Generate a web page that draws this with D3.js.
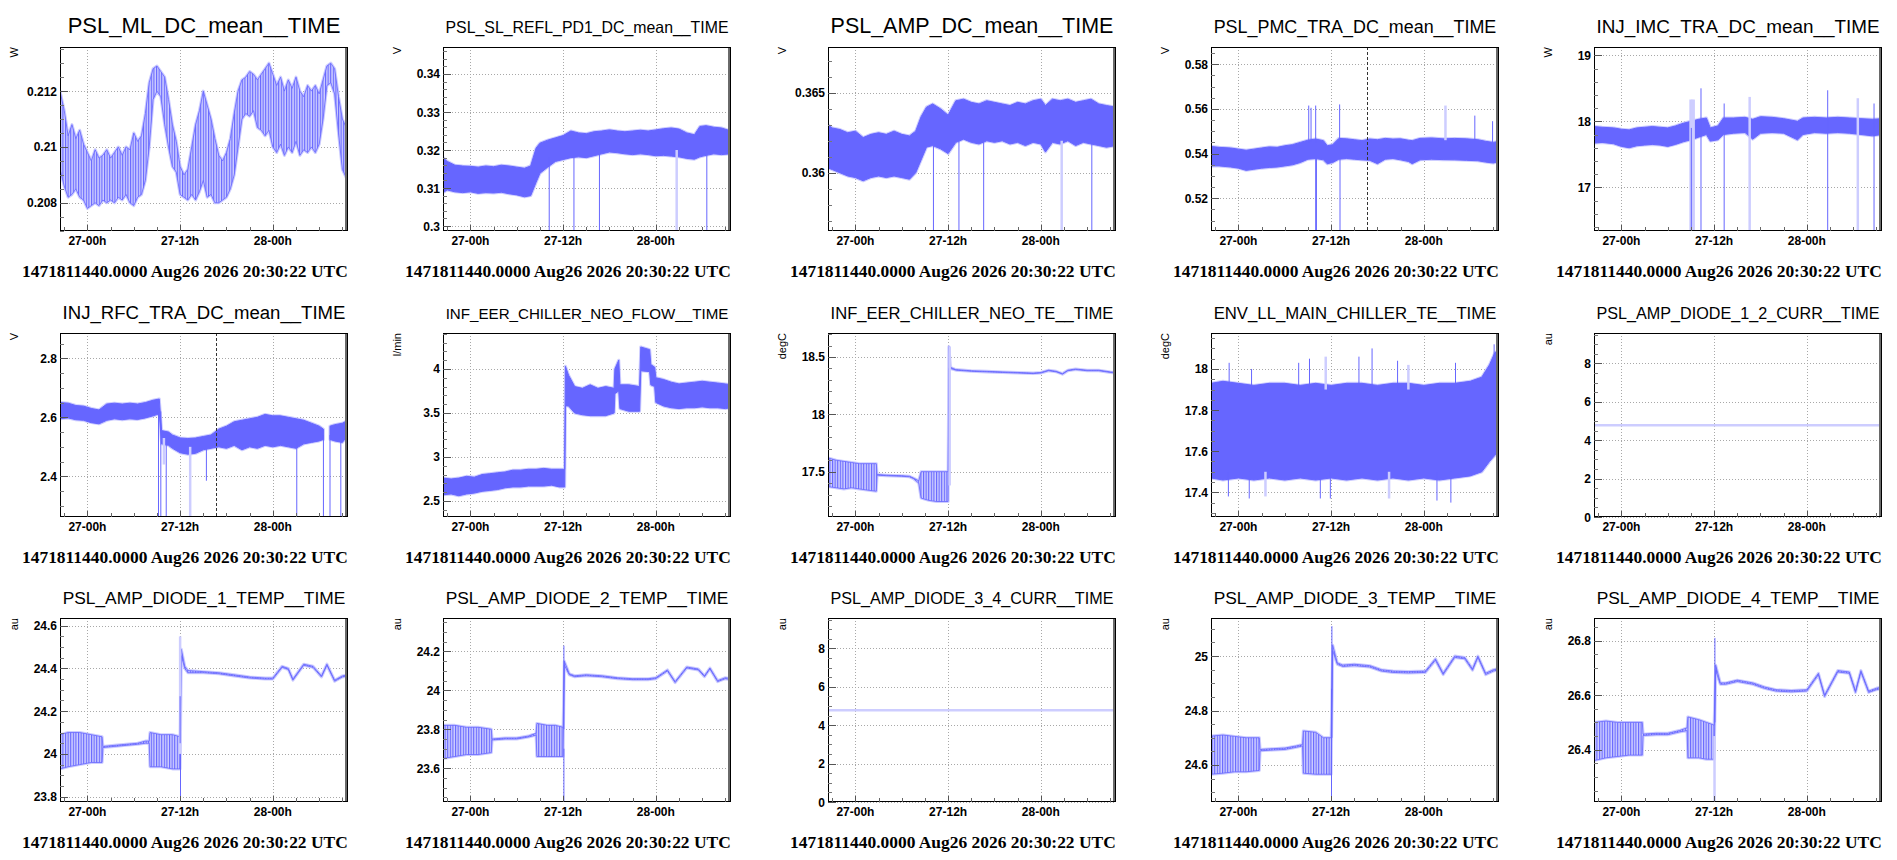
<!DOCTYPE html>
<html>
<head>
<meta charset="utf-8">
<script src="https://cdn.jsdelivr.net/npm/d3@7"></script>
<style>
  body { margin: 0; background: #fff; }
  text { font-family: "Liberation Sans", Arial, sans-serif; }
  text.stamp { font-family: "Liberation Serif", "Times New Roman", serif; }
</style>
</head>
<body>
<div id="chart"></div>
<script>
// Panel titles, units and axis ranges
const titles = [
  'PSL_ML_DC_mean__TIME', 'PSL_SL_REFL_PD1_DC_mean__TIME', 'PSL_AMP_DC_mean__TIME', 'PSL_PMC_TRA_DC_mean__TIME', 'INJ_IMC_TRA_DC_mean__TIME',
  'INJ_RFC_TRA_DC_mean__TIME', 'INF_EER_CHILLER_NEO_FLOW__TIME', 'INF_EER_CHILLER_NEO_TE__TIME', 'ENV_LL_MAIN_CHILLER_TE__TIME', 'PSL_AMP_DIODE_1_2_CURR__TIME',
  'PSL_AMP_DIODE_1_TEMP__TIME', 'PSL_AMP_DIODE_2_TEMP__TIME', 'PSL_AMP_DIODE_3_4_CURR__TIME', 'PSL_AMP_DIODE_3_TEMP__TIME', 'PSL_AMP_DIODE_4_TEMP__TIME'
];
const units = ['W', 'V', 'V', 'V', 'W', 'V', 'l/min', 'degC', 'degC', 'au', 'au', 'au', 'au', 'au', 'au'];
const yDomains = [
  [0.20699, 0.21358], [0.2987, 0.3471], [0.35636, 0.36786], [0.50537, 0.5877], [16.338, 19.126],
  [2.262, 2.886], [2.318, 4.409], [17.105, 18.709], [17.28, 18.175], [0, 9.58],
  [23.775, 24.636], [23.426, 24.372], [0, 9.58], [24.464, 25.14], [26.208, 26.883]
];
const yTickValues = [
  [0.208, 0.21, 0.212], [0.3, 0.31, 0.32, 0.33, 0.34], [0.36, 0.365], [0.52, 0.54, 0.56, 0.58], [17, 18, 19],
  [2.4, 2.6, 2.8], [2.5, 3, 3.5, 4], [17.5, 18, 18.5], [17.4, 17.6, 17.8, 18], [0, 2, 4, 6, 8],
  [23.8, 24, 24.2, 24.4, 24.6], [23.6, 23.8, 24, 24.2], [0, 2, 4, 6, 8], [24.6, 24.8, 25], [26.4, 26.6, 26.8]
];
const yMinorSteps = [0.0005, 0.002, 0.001, 0.005, 0.2, 0.05, 0.1, 0.1, 0.05, 0.5, 0.05, 0.05, 0.5, 0.05, 0.05];

// Time axis: hours relative to Aug 27 00:00 UTC
const timeSpan = [-3.55, 33.73];
const xMajorHours = [0, 12, 24];
const xMinorHours = [-3, 3, 6, 9, 15, 18, 21, 27, 30, 33];
const stampLabel = '1471811440.0000 Aug26 2026 20:30:22 UTC';
const markerHours = [16.67];
const markerPanels = [3, 5];

// Series: [hour, low envelope, high envelope]
const mlDc = [
  [-3.55, 0.2092, 0.2120], [-3.0, 0.2086, 0.2113], [-2.5, 0.2082, 0.2104], [-2.0, 0.2083, 0.2108], [-1.5, 0.2085, 0.2103],
  [-1.0, 0.2082, 0.2106], [-0.5, 0.2081, 0.2101], [0.0, 0.2078, 0.2098], [0.5, 0.2079, 0.2095], [1.0, 0.2080, 0.2099],
  [1.5, 0.2079, 0.2096], [2.0, 0.2081, 0.2097], [2.5, 0.2080, 0.2099], [3.0, 0.2081, 0.2096], [3.5, 0.2080, 0.2098],
  [4.0, 0.2082, 0.2100], [4.5, 0.2081, 0.2097], [5.0, 0.2083, 0.2100], [5.5, 0.2080, 0.2099], [6.0, 0.2079, 0.2105],
  [6.5, 0.2082, 0.2102], [7.0, 0.2083, 0.2104], [7.5, 0.2088, 0.2112], [8.0, 0.2100, 0.2123], [8.5, 0.2117, 0.2128],
  [9.0, 0.2120, 0.2129], [9.5, 0.2118, 0.2127], [10.0, 0.2108, 0.2125], [10.5, 0.2100, 0.2117], [11.0, 0.2093, 0.2108],
  [11.5, 0.2091, 0.2102], [12.0, 0.2083, 0.2093], [12.5, 0.2082, 0.2090], [13.0, 0.2081, 0.2092], [13.5, 0.2083, 0.2100],
  [14.0, 0.2081, 0.2108], [14.5, 0.2084, 0.2113], [15.0, 0.2088, 0.2120], [15.5, 0.2082, 0.2115], [16.0, 0.2083, 0.2110],
  [16.5, 0.2080, 0.2103], [17.0, 0.2080, 0.2097], [17.5, 0.2081, 0.2095], [18.0, 0.2082, 0.2098], [18.5, 0.2085, 0.2103],
  [19.0, 0.2090, 0.2112], [19.5, 0.2100, 0.2120], [20.0, 0.2110, 0.2124], [20.5, 0.2112, 0.2125], [21.0, 0.2111, 0.2127],
  [21.5, 0.2113, 0.2126], [22.0, 0.2107, 0.2124], [22.5, 0.2106, 0.2126], [23.0, 0.2104, 0.2128], [23.5, 0.2106, 0.2130],
  [24.0, 0.2100, 0.2126], [24.5, 0.2098, 0.2122], [25.0, 0.2101, 0.2125], [25.5, 0.2097, 0.2120], [26.0, 0.2100, 0.2124],
  [26.5, 0.2098, 0.2121], [27.0, 0.2102, 0.2125], [27.5, 0.2097, 0.2120], [28.0, 0.2099, 0.2118], [28.5, 0.2098, 0.2122],
  [29.0, 0.2100, 0.2120], [29.5, 0.2098, 0.2122], [30.0, 0.2101, 0.2119], [30.5, 0.2110, 0.2124], [31.0, 0.2122, 0.2129],
  [31.5, 0.2123, 0.2130], [32.0, 0.2119, 0.2128], [32.5, 0.2105, 0.2118], [33.0, 0.2092, 0.2110], [33.5, 0.2089, 0.2107],
  [33.73, 0.2093, 0.2105]
];
const slRefl = [
  [-3.55, 0.3088, 0.3180], [-3.0, 0.3095, 0.3170], [-2.0, 0.3090, 0.3160], [-1.0, 0.3088, 0.3158], [0.0, 0.3090, 0.3157],
  [1.0, 0.3086, 0.3155], [2.0, 0.3088, 0.3158], [3.0, 0.3087, 0.3156], [4.0, 0.3089, 0.3160], [5.0, 0.3085, 0.3158],
  [6.0, 0.3082, 0.3155], [7.0, 0.3077, 0.3152], [7.8, 0.3080, 0.3158], [8.5, 0.3115, 0.3205], [9.0, 0.3139, 0.3218],
  [10.0, 0.3155, 0.3226], [11.0, 0.3170, 0.3232], [12.0, 0.3175, 0.3238], [13.0, 0.3180, 0.3250], [14.0, 0.3182, 0.3245],
  [15.0, 0.3180, 0.3243], [16.0, 0.3185, 0.3248], [17.0, 0.3190, 0.3250], [18.0, 0.3195, 0.3253], [19.0, 0.3193, 0.3250],
  [20.0, 0.3190, 0.3248], [21.0, 0.3188, 0.3250], [22.0, 0.3190, 0.3252], [23.0, 0.3188, 0.3250], [24.0, 0.3185, 0.3253],
  [25.0, 0.3186, 0.3256], [26.0, 0.3184, 0.3258], [27.0, 0.3182, 0.3255], [28.0, 0.3178, 0.3245], [29.0, 0.3176, 0.3240],
  [29.7, 0.3182, 0.3262], [30.5, 0.3186, 0.3264], [31.5, 0.3190, 0.3260], [32.5, 0.3188, 0.3258], [33.73, 0.3190, 0.3250]
];
const ampDc = [
  [-3.55, 0.3603, 0.3630], [-3.0, 0.3602, 0.3628], [-2.0, 0.3600, 0.3627], [-1.0, 0.3598, 0.3625], [0.0, 0.3597, 0.3626],
  [1.0, 0.3595, 0.3622], [2.0, 0.3597, 0.3624], [3.0, 0.3598, 0.3625], [4.0, 0.3597, 0.3624], [5.0, 0.3598, 0.3626],
  [6.0, 0.3597, 0.3624], [7.0, 0.3596, 0.3623], [7.8, 0.3600, 0.3626], [8.5, 0.3608, 0.3635], [9.2, 0.3616, 0.3641],
  [10.0, 0.3617, 0.3643], [11.0, 0.3615, 0.3640], [12.0, 0.3612, 0.3636], [13.0, 0.3619, 0.3645], [14.0, 0.3621, 0.3646],
  [15.0, 0.3619, 0.3644], [16.0, 0.3618, 0.3643], [17.0, 0.3620, 0.3645], [18.0, 0.3619, 0.3644], [19.0, 0.3620, 0.3643],
  [20.0, 0.3618, 0.3642], [21.0, 0.3619, 0.3644], [22.0, 0.3617, 0.3643], [23.0, 0.3619, 0.3645], [24.0, 0.3618, 0.3646],
  [24.6, 0.3613, 0.3642], [25.5, 0.3619, 0.3646], [26.5, 0.3618, 0.3645], [27.5, 0.3620, 0.3646], [28.5, 0.3617, 0.3644],
  [29.5, 0.3619, 0.3645], [30.5, 0.3618, 0.3646], [31.5, 0.3617, 0.3643], [32.5, 0.3616, 0.3642], [33.73, 0.3617, 0.3641]
];
const pmcTra = [
  [-3.55, 0.5345, 0.5432], [-2.5, 0.5345, 0.5428], [-1.0, 0.5340, 0.5425], [0.0, 0.5335, 0.5420], [1.0, 0.5325, 0.5415],
  [2.0, 0.5330, 0.5420], [3.0, 0.5335, 0.5425], [4.0, 0.5338, 0.5430], [5.0, 0.5340, 0.5428], [6.0, 0.5345, 0.5435],
  [7.0, 0.5350, 0.5440], [8.0, 0.5360, 0.5450], [9.0, 0.5375, 0.5460], [10.0, 0.5378, 0.5465], [11.0, 0.5372, 0.5458],
  [11.5, 0.5355, 0.5435], [12.2, 0.5360, 0.5440], [13.0, 0.5375, 0.5468], [14.0, 0.5378, 0.5466], [15.0, 0.5375, 0.5462],
  [16.0, 0.5372, 0.5458], [17.0, 0.5370, 0.5465], [18.0, 0.5355, 0.5462], [19.0, 0.5375, 0.5468], [20.0, 0.5378, 0.5465],
  [21.0, 0.5372, 0.5466], [22.0, 0.5365, 0.5460], [22.5, 0.5355, 0.5458], [23.5, 0.5372, 0.5468], [25.0, 0.5375, 0.5470],
  [26.5, 0.5373, 0.5466], [28.0, 0.5372, 0.5468], [29.5, 0.5370, 0.5466], [31.0, 0.5368, 0.5462], [32.0, 0.5362, 0.5455],
  [33.0, 0.5358, 0.5450], [33.73, 0.5365, 0.5455]
];
const imcTra = [
  [-3.55, 17.67, 17.92], [-2.5, 17.68, 17.91], [-1.0, 17.66, 17.90], [0.0, 17.62, 17.88], [1.0, 17.60, 17.87],
  [2.0, 17.63, 17.90], [3.0, 17.64, 17.91], [4.0, 17.65, 17.92], [5.0, 17.64, 17.91], [6.0, 17.62, 17.90],
  [7.0, 17.65, 17.93], [8.0, 17.69, 17.97], [9.0, 17.72, 18.00], [10.0, 17.76, 18.03], [11.0, 17.80, 18.05],
  [11.5, 17.70, 17.90], [12.5, 17.72, 17.93], [13.2, 17.80, 18.05], [14.5, 17.82, 18.05], [16.0, 17.83, 18.06],
  [17.0, 17.73, 18.03], [18.0, 17.82, 18.07], [19.5, 17.83, 18.06], [21.0, 17.82, 18.04], [22.8, 17.72, 18.00],
  [23.5, 17.80, 18.05], [25.0, 17.83, 18.06], [26.5, 17.82, 18.05], [28.0, 17.83, 18.06], [29.5, 17.82, 18.05],
  [31.0, 17.80, 18.04], [32.5, 17.78, 18.03], [33.73, 17.80, 18.04]
];
const rfcTra = [
  [-3.55, 2.595, 2.650], [-2.5, 2.598, 2.648], [-1.5, 2.592, 2.640], [-0.5, 2.590, 2.638], [0.5, 2.582, 2.630],
  [1.5, 2.578, 2.625], [2.5, 2.590, 2.645], [3.5, 2.595, 2.648], [4.5, 2.592, 2.645], [5.5, 2.595, 2.648],
  [6.5, 2.593, 2.645], [7.5, 2.598, 2.650], [8.5, 2.605, 2.658], [9.3, 2.612, 2.662], [9.6, 2.510, 2.555],
  [10.5, 2.505, 2.550], [11.0, 2.495, 2.540], [12.0, 2.480, 2.530], [13.0, 2.475, 2.528], [14.0, 2.478, 2.530],
  [15.0, 2.490, 2.535], [16.0, 2.495, 2.540], [17.0, 2.500, 2.560], [18.0, 2.495, 2.570], [19.0, 2.505, 2.585],
  [20.0, 2.490, 2.590], [21.0, 2.500, 2.595], [22.0, 2.495, 2.600], [23.0, 2.505, 2.610], [24.0, 2.500, 2.605],
  [25.0, 2.505, 2.605], [26.0, 2.500, 2.600], [27.0, 2.495, 2.595], [28.0, 2.510, 2.590], [29.0, 2.515, 2.580],
  [30.0, 2.520, 2.570], [30.55, 2.525, 2.560], [31.0, null, null], [31.4, 2.525, 2.570], [32.0, 2.520, 2.575],
  [33.0, 2.515, 2.580], [33.73, 2.540, 2.590]
];
const neoFlow = [
  [-3.55, 2.57, 2.76], [-2.5, 2.58, 2.75], [-1.5, 2.56, 2.76], [-0.5, 2.58, 2.78], [0.5, 2.59, 2.77],
  [1.5, 2.61, 2.80], [2.5, 2.62, 2.81], [3.5, 2.63, 2.82], [4.5, 2.65, 2.83], [5.5, 2.66, 2.85],
  [6.5, 2.66, 2.85], [7.5, 2.67, 2.86], [8.5, 2.67, 2.86], [9.5, 2.67, 2.87], [10.5, 2.68, 2.86],
  [11.5, 2.66, 2.86], [12.2, 2.66, 2.86], [12.3, 3.58, 4.03], [12.7, 3.58, 3.93], [13.5, 3.50, 3.80],
  [14.5, 3.48, 3.78], [15.5, 3.47, 3.82], [16.5, 3.47, 3.78], [17.5, 3.47, 3.80], [18.6, 3.50, 3.78],
  [18.7, 3.72, 4.00], [19.2, 3.75, 4.10], [19.35, 3.55, 3.82], [20.5, 3.52, 3.82], [21.9, 3.52, 3.80],
  [22.05, 3.98, 4.25], [23.2, 3.97, 4.22], [23.35, 3.82, 4.05], [23.85, 3.80, 4.02], [24.0, 3.62, 3.90],
  [25.0, 3.58, 3.88], [26.0, 3.56, 3.85], [27.0, 3.55, 3.83], [28.0, 3.56, 3.84], [29.0, 3.56, 3.85],
  [30.0, 3.57, 3.86], [31.0, 3.56, 3.85], [32.0, 3.56, 3.84], [33.0, 3.55, 3.83], [33.73, 3.56, 3.82]
];
const neoTe = [
  [-3.55, 17.37, 17.62], [-2.5, 17.36, 17.60], [-1.5, 17.35, 17.59], [-0.5, 17.36, 17.58], [0.5, 17.35, 17.57],
  [1.5, 17.34, 17.57], [2.7, 17.33, 17.57], [2.8, 17.47, 17.475], [4.0, 17.465, 17.47], [5.0, 17.462, 17.467],
  [6.0, 17.46, 17.465], [7.0, 17.455, 17.46], [7.5, 17.44, 17.445], [8.2, 17.40, 17.42], [8.5, 17.27, 17.50],
  [9.5, 17.25, 17.50], [10.5, 17.24, 17.50], [11.5, 17.24, 17.50], [12.0, 17.24, 17.50], [12.1, 18.40, 18.59],
  [12.3, 18.40, 18.41], [13.0, 18.385, 18.39], [15.0, 18.375, 18.38], [17.0, 18.37, 18.375], [19.0, 18.365, 18.37],
  [21.0, 18.36, 18.365], [23.0, 18.355, 18.36], [24.0, 18.36, 18.365], [25.0, 18.38, 18.385], [26.0, 18.37, 18.375],
  [26.8, 18.35, 18.355], [27.5, 18.38, 18.385], [28.5, 18.39, 18.395], [30.0, 18.38, 18.385], [31.5, 18.38, 18.385],
  [33.0, 18.365, 18.37], [33.73, 18.36, 18.365]
];
const mainTe = [
  [-3.55, 17.47, 17.93], [-2.0, 17.46, 17.94], [0.0, 17.47, 17.93], [2.0, 17.46, 17.92], [4.0, 17.47, 17.93],
  [6.0, 17.46, 17.93], [8.0, 17.47, 17.92], [10.0, 17.46, 17.93], [12.0, 17.47, 17.92], [14.0, 17.46, 17.93],
  [16.0, 17.47, 17.93], [18.0, 17.46, 17.92], [20.0, 17.47, 17.93], [22.0, 17.46, 17.93], [24.0, 17.47, 17.92],
  [26.0, 17.46, 17.93], [28.0, 17.47, 17.93], [30.0, 17.48, 17.94], [31.5, 17.50, 17.96], [32.5, 17.55, 18.02],
  [33.2, 17.58, 18.08], [33.73, 17.60, 18.09]
];
const diode12Curr = [[-3.55, 4.78, 4.78], [33.73, 4.78, 4.78]];
const diode1Temp = [
  [-3.55, 23.93, 24.09], [-2.5, 23.94, 24.10], [-1.0, 23.95, 24.10], [0.5, 23.96, 24.09], [1.9, 23.96, 24.08],
  [2.0, 24.03, 24.035], [3.5, 24.035, 24.04], [5.0, 24.04, 24.045], [6.5, 24.045, 24.05], [7.5, 24.05, 24.06],
  [8.0, 24.05, 24.06], [8.1, 23.94, 24.10], [9.5, 23.94, 24.09], [11.0, 23.93, 24.09], [12.0, 23.93, 24.08],
  [12.15, 24.46, 24.49], [12.6, 24.40, 24.41], [13.0, 24.38, 24.39], [15.0, 24.38, 24.385], [17.0, 24.375, 24.38],
  [19.0, 24.365, 24.37], [21.0, 24.355, 24.36], [23.0, 24.35, 24.355], [24.0, 24.35, 24.355], [25.2, 24.405, 24.41],
  [26.0, 24.395, 24.40], [26.6, 24.345, 24.35], [28.0, 24.415, 24.42], [29.2, 24.405, 24.41], [30.3, 24.36, 24.365],
  [31.0, 24.415, 24.42], [32.0, 24.34, 24.345], [33.0, 24.36, 24.365], [33.73, 24.365, 24.37]
];
const diode2Temp = [
  [-3.55, 23.65, 23.82], [-2.0, 23.66, 23.82], [-0.5, 23.67, 23.81], [1.0, 23.67, 23.81], [2.7, 23.68, 23.80],
  [2.8, 23.745, 23.75], [4.5, 23.75, 23.755], [6.0, 23.75, 23.755], [7.5, 23.76, 23.765], [8.5, 23.77, 23.78],
  [8.6, 23.66, 23.83], [10.0, 23.66, 23.82], [11.0, 23.66, 23.82], [12.0, 23.66, 23.81], [12.15, 24.13, 24.15],
  [12.8, 24.08, 24.085], [13.5, 24.07, 24.075], [15.0, 24.075, 24.08], [17.0, 24.07, 24.075], [19.0, 24.06, 24.065],
  [21.0, 24.055, 24.06], [23.0, 24.055, 24.06], [24.0, 24.06, 24.065], [25.5, 24.10, 24.105], [26.5, 24.04, 24.045],
  [28.0, 24.115, 24.12], [29.5, 24.105, 24.11], [30.3, 24.07, 24.075], [31.0, 24.11, 24.115], [32.0, 24.045, 24.05],
  [33.0, 24.06, 24.065], [33.73, 24.055, 24.06]
];
const diode34Curr = [[-3.55, 4.78, 4.78], [33.73, 4.78, 4.78]];
const diode3Temp = [
  [-3.55, 24.566, 24.706], [-2.0, 24.57, 24.71], [-0.5, 24.575, 24.705], [1.0, 24.575, 24.70], [2.7, 24.58, 24.70],
  [2.8, 24.652, 24.657], [4.5, 24.655, 24.66], [6.0, 24.657, 24.662], [7.5, 24.665, 24.67], [8.3, 24.67, 24.675],
  [8.4, 24.57, 24.725], [10.0, 24.566, 24.72], [11.0, 24.566, 24.70], [12.0, 24.566, 24.70], [12.2, 25.02, 25.04],
  [12.8, 24.97, 24.975], [13.5, 24.962, 24.967], [15.0, 24.965, 24.97], [17.0, 24.96, 24.965], [18.5, 24.945, 24.95],
  [20.0, 24.94, 24.945], [22.0, 24.938, 24.943], [24.2, 24.94, 24.945], [25.5, 24.985, 24.99], [26.5, 24.932, 24.937],
  [28.0, 24.995, 25.0], [29.3, 24.99, 24.995], [30.3, 24.948, 24.953], [31.0, 24.995, 25.0], [32.0, 24.932, 24.937],
  [33.0, 24.945, 24.95], [33.73, 24.95, 24.955]
];
const diode4Temp = [
  [-3.55, 26.36, 26.50], [-2.0, 26.37, 26.505], [-0.5, 26.375, 26.50], [1.0, 26.38, 26.50], [2.7, 26.38, 26.50],
  [2.8, 26.452, 26.457], [4.5, 26.455, 26.46], [6.0, 26.455, 26.46], [7.5, 26.465, 26.47], [8.5, 26.47, 26.48],
  [8.6, 26.37, 26.52], [10.0, 26.37, 26.51], [11.0, 26.365, 26.50], [12.0, 26.365, 26.49], [12.2, 26.69, 26.71],
  [12.8, 26.64, 26.645], [13.5, 26.64, 26.645], [15.0, 26.65, 26.655], [17.0, 26.64, 26.645], [18.5, 26.625, 26.63],
  [20.0, 26.615, 26.62], [22.0, 26.612, 26.617], [24.0, 26.615, 26.62], [25.5, 26.675, 26.68], [26.3, 26.595, 26.60],
  [28.0, 26.685, 26.69], [29.5, 26.68, 26.685], [30.3, 26.61, 26.615], [31.0, 26.685, 26.69], [32.0, 26.61, 26.615],
  [33.0, 26.62, 26.625], [33.73, 26.625, 26.63]
];

// Isolated glitches: [hour, from value, to value, faint (1) or not (0)]
const mlDcSpikes = [];
const slReflSpikes = [[10.2, 0.318, 0.2987, 0], [13.4, 0.320, 0.2987, 0], [16.7, 0.320, 0.2987, 0], [26.7, 0.320, 0.2987, 1], [30.6, 0.320, 0.2987, 0]];
const ampDcSpikes = [[10.1, 0.3617, 0.35636, 0], [13.4, 0.362, 0.35636, 0], [16.6, 0.362, 0.35636, 0], [26.7, 0.362, 0.35636, 1], [30.6, 0.362, 0.35636, 0]];
const pmcTraSpikes = [
  [9.1, 0.545, 0.5615, 0], [9.4, 0.545, 0.5605, 0], [10.0, 0.545, 0.5615, 0], [13.1, 0.546, 0.562, 0], [26.8, 0.546, 0.5615, 1],
  [30.6, 0.546, 0.557, 0], [32.9, 0.545, 0.5545, 0], [10.0, 0.538, 0.5054, 0], [10.1, 0.538, 0.5054, 0], [13.15, 0.538, 0.5054, 0]
];
const imcTraSpikes = [
  [8.95, 18.33, 16.338, 1], [9.15, 18.33, 16.338, 1], [9.35, 18.33, 16.338, 1], [9.05, 17.9, 16.338, 0], [10.3, 18.5, 16.338, 0],
  [13.3, 18.27, 16.338, 0], [16.6, 18.37, 16.338, 1], [26.7, 18.47, 16.338, 0], [30.6, 18.35, 16.338, 1], [32.7, 18.27, 16.338, 0]
];
const rfcTraSpikes = [
  [9.2, 2.62, 2.262, 0], [9.5, 2.62, 2.262, 0], [10.2, 2.53, 2.262, 0], [9.9, 2.53, 2.44, 1], [13.3, 2.50, 2.262, 1],
  [15.4, 2.50, 2.385, 0], [27.1, 2.52, 2.262, 0], [30.55, 2.54, 2.262, 0], [31.4, 2.54, 2.262, 0], [32.8, 2.54, 2.262, 0]
];
const neoFlowSpikes = [];
const neoTeSpikes = [[12.2, 17.38, 18.59, 1]];
const mainTeSpikes = [
  [-1.2, 17.9, 18.03, 0], [1.7, 17.9, 18.0, 0], [7.8, 17.9, 18.03, 0], [9.2, 17.9, 18.05, 0], [15.6, 17.9, 18.06, 0],
  [17.3, 17.9, 18.1, 0], [20.6, 17.9, 18.04, 0], [28.1, 17.9, 18.03, 0], [33.1, 17.9, 18.12, 0], [11.3, 17.9, 18.06, 1],
  [22.0, 17.9, 18.02, 1], [-1.3, 17.5, 17.38, 0], [1.4, 17.5, 17.37, 0], [10.6, 17.5, 17.37, 0], [11.9, 17.5, 17.37, 0],
  [25.7, 17.5, 17.36, 0], [27.5, 17.5, 17.35, 0], [3.5, 17.5, 17.38, 1], [19.5, 17.5, 17.37, 1]
];
const diode12CurrSpikes = [];
const diode1TempSpikes = [[12.0, 24.0, 24.55, 1], [12.05, 24.0, 23.775, 0], [12.0, 24.05, 24.27, 0]];
const diode2TempSpikes = [[12.1, 23.8, 24.23, 0], [12.1, 23.7, 23.426, 0]];
const diode34CurrSpikes = [];
const diode3TempSpikes = [[12.1, 24.7, 25.11, 0], [12.05, 24.88, 24.464, 0]];
const diode4TempSpikes = [[12.1, 26.5, 26.81, 0], [12.05, 26.45, 26.208, 1]];

const seriesList = [mlDc, slRefl, ampDc, pmcTra, imcTra, rfcTra, neoFlow, neoTe, mainTe, diode12Curr,
  diode1Temp, diode2Temp, diode34Curr, diode3Temp, diode4Temp];
const spikeList = [mlDcSpikes, slReflSpikes, ampDcSpikes, pmcTraSpikes, imcTraSpikes, rfcTraSpikes, neoFlowSpikes, neoTeSpikes,
  mainTeSpikes, diode12CurrSpikes, diode1TempSpikes, diode2TempSpikes, diode34CurrSpikes, diode3TempSpikes, diode4TempSpikes];

// Layout
const width = 1897;
const height = 860;
const colLeft = [60, 443, 828, 1211, 1594];
const rowTop = [47, 333, 618];
const frameW = 288;
const frameH = 184;
const BLUE = '#6666ff';
const LIGHT = '#cdcdff';
const faintPanels = [9, 12];
const sparsePanels = [0, 7, 10, 11, 13, 14];

const base = Date.UTC(2026, 7, 27, 0, 0, 0);
const hourDate = h => new Date(base + h * 3600e3);
const fmtTime = d3.utcFormat('%d-%Hh');

const svg = d3.select('#chart')
  .append('svg')
  .attr('width', width)
  .attr('height', height)
  .attr('viewBox', `0 0 ${width} ${height}`);

svg.append('rect').attr('width', width).attr('height', height).attr('fill', '#fff');

const defs = svg.append('defs');

// Vertical hatching to mimic the sparse, sawtooth-like noise
const hatch = defs.append('pattern')
  .attr('id', 'hatch')
  .attr('patternUnits', 'userSpaceOnUse')
  .attr('width', 2.6).attr('height', 6);
hatch.append('rect').attr('width', 2.6).attr('height', 6).attr('fill', LIGHT);
hatch.append('rect').attr('width', 1.1).attr('height', 6).attr('fill', BLUE);

titles.forEach((title, i) => {
  const left = colLeft[i % 5];
  const top = rowTop[Math.floor(i / 5)];
  const right = left + frameW;
  const bottom = top + frameH;

  const xScale = d3.scaleUtc()
    .domain([hourDate(timeSpan[0]), hourDate(timeSpan[1])])
    .range([left, right]);
  const yScale = d3.scaleLinear()
    .domain(yDomains[i])
    .range([bottom, top]);
  const xh = h => xScale(hourDate(h));

  const g = svg.append('g').attr('class', 'panel');

  // Gridlines
  const grid = g.append('g').attr('stroke', '#a8a8a8').attr('stroke-dasharray', '1,2').attr('stroke-width', 1);
  grid.selectAll('.vg').data(xMajorHours).join('line')
    .attr('x1', d => Math.round(xh(d)) + 0.5).attr('x2', d => Math.round(xh(d)) + 0.5)
    .attr('y1', top).attr('y2', bottom);
  grid.selectAll('.hg').data(yTickValues[i]).join('line')
    .attr('x1', left).attr('x2', right)
    .attr('y1', d => Math.round(yScale(d)) + 0.5).attr('y2', d => Math.round(yScale(d)) + 0.5);

  // Data
  defs.append('clipPath').attr('id', `clip${i}`)
    .append('rect').attr('x', left).attr('y', top).attr('width', frameW).attr('height', frameH);
  const plot = g.append('g').attr('clip-path', `url(#clip${i})`);

  const area = d3.area()
    .defined(d => d[1] !== null)
    .x(d => xh(d[0]))
    .y0(d => yScale(d[1]))
    .y1(d => yScale(d[2]));

  const faint = faintPanels.includes(i);
  const sparse = sparsePanels.includes(i);
  plot.append('path').datum(seriesList[i])
    .attr('d', area)
    .attr('fill', LIGHT)
    .attr('stroke', LIGHT)
    .attr('stroke-width', faint ? 2.5 : 3)
    .attr('stroke-linejoin', 'round');
  if (!faint) {
    plot.append('path').datum(seriesList[i])
      .attr('d', area)
      .attr('fill', sparse ? 'url(#hatch)' : BLUE)
      .attr('stroke', BLUE)
      .attr('stroke-width', sparse ? 0.8 : 1);
  }

  plot.selectAll('.spike').data(spikeList[i]).join('line')
    .attr('x1', d => xh(d[0])).attr('x2', d => xh(d[0]))
    .attr('y1', d => yScale(d[1])).attr('y2', d => yScale(d[2]))
    .attr('stroke', d => d[3] ? LIGHT : BLUE)
    .attr('stroke-width', d => d[3] ? 2.5 : 1);

  if (markerPanels.includes(i)) {
    plot.selectAll('.marker').data(markerHours).join('line')
      .attr('x1', d => Math.round(xh(d)) + 0.5).attr('x2', d => Math.round(xh(d)) + 0.5)
      .attr('y1', top).attr('y2', bottom)
      .attr('stroke', '#333').attr('stroke-dasharray', '3,2');
  }

  // Dense strip at the right edge
  g.append('rect').attr('x', right - 3).attr('y', top).attr('width', 3).attr('height', frameH)
    .attr('fill', '#6a6a6a');

  // Frame
  g.append('rect').attr('x', left + 0.5).attr('y', top + 0.5).attr('width', frameW - 1).attr('height', frameH - 1)
    .attr('fill', 'none').attr('stroke', '#000').attr('stroke-width', 1);

  // Y ticks
  const step = yMinorSteps[i];
  const [y0, y1] = yDomains[i];
  const minor = d3.range(Math.ceil(y0 / step - 1e-6), Math.floor(y1 / step + 1e-6) + 1).map(k => k * step);
  g.append('g').selectAll('line').data(minor).join('line')
    .attr('x1', left).attr('x2', left + 4)
    .attr('y1', d => Math.round(yScale(d)) + 0.5).attr('y2', d => Math.round(yScale(d)) + 0.5)
    .attr('stroke', '#777');
  g.append('g').selectAll('line').data(yTickValues[i]).join('line')
    .attr('x1', left).attr('x2', left + 8)
    .attr('y1', d => Math.round(yScale(d)) + 0.5).attr('y2', d => Math.round(yScale(d)) + 0.5)
    .attr('stroke', '#555');
  g.append('g').selectAll('text').data(yTickValues[i]).join('text')
    .attr('x', left - 3).attr('y', d => yScale(d) + 4.5)
    .attr('text-anchor', 'end')
    .attr('font-size', 12).attr('font-weight', 'bold')
    .text(d => d3.format('~g')(d));

  // X ticks
  g.append('g').selectAll('line').data(xMinorHours).join('line')
    .attr('x1', d => Math.round(xh(d)) + 0.5).attr('x2', d => Math.round(xh(d)) + 0.5)
    .attr('y1', bottom).attr('y2', bottom - 4)
    .attr('stroke', '#666');
  g.append('g').selectAll('line').data(xMajorHours).join('line')
    .attr('x1', d => Math.round(xh(d)) + 0.5).attr('x2', d => Math.round(xh(d)) + 0.5)
    .attr('y1', bottom).attr('y2', bottom - 6)
    .attr('stroke', '#555');
  g.append('g').selectAll('text').data(xMajorHours).join('text')
    .attr('x', d => xh(d)).attr('y', bottom + 14)
    .attr('text-anchor', 'middle')
    .attr('font-size', 12).attr('font-weight', 'bold')
    .text(d => fmtTime(hourDate(d)));

  // Title, scaled to fit the frame
  const t = g.append('text')
    .attr('x', (left + right) / 2).attr('y', top - 14)
    .attr('text-anchor', 'middle')
    .attr('font-size', 22)
    .text(title);
  const len = t.node().getComputedTextLength();
  if (len > frameW - 5) t.attr('font-size', 22 * (frameW - 5) / len);

  // Unit
  g.append('text')
    .attr('transform', `translate(${left - 42},${top}) rotate(-90)`)
    .attr('text-anchor', 'end')
    .attr('font-size', 11)
    .text(units[i]);

  // Time stamp under each pad (serif, bold)
  const s = g.append('text')
    .attr('class', 'stamp')
    .attr('x', left - 38).attr('y', bottom + 46)
    .attr('font-size', 18).attr('font-weight', 'bold')
    .text(stampLabel);
  const sLen = s.node().getComputedTextLength();
  if (sLen > 326) s.attr('font-size', 18 * 326 / sLen);
});
</script>
</body>
</html>
